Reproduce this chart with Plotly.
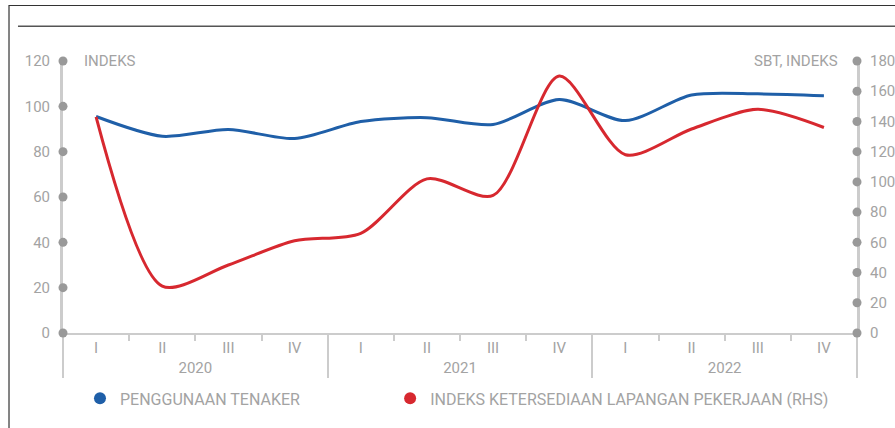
import plotly.graph_objects as go

years = ["2020"] * 4 + ["2021"] * 4 + ["2022"] * 4
quarters = ["I", "II", "III", "IV"] * 3
tenaker = [95.5, 86.8, 89.8, 85.8, 93.3, 95.0, 92.0, 103.0, 93.7, 105.0, 105.5, 104.7]
lapangan = [143, 31, 45, 61, 66, 102, 91, 170, 118, 135, 148, 136]
left_ticks = [0, 20, 40, 60, 80, 100, 120]
right_ticks = [0, 20, 40, 60, 80, 100, 120, 140, 160, 180]
left_range = [0, 120]
right_range = [0, 180]

BLUE = "#1f5fa8"
RED = "#d7282f"
AXIS = "#cccccc"
DOT = "#999999"
TXT = "#a3a3a3"
FONT = "Roboto, sans-serif"
FS = 15

fig = go.Figure()
fig.add_trace(go.Scatter(x=[years, quarters], y=tenaker, mode="lines",
                         line=dict(color=BLUE, width=3, shape="spline", smoothing=0.8),
                         showlegend=False, hoverinfo="skip"))
fig.add_trace(go.Scatter(x=[years, quarters], y=lapangan, mode="lines", yaxis="y2",
                         line=dict(color=RED, width=3, shape="spline", smoothing=0.8),
                         showlegend=False, hoverinfo="skip"))
# legend entries (dot symbols)
fig.add_trace(go.Scatter(x=[None], y=[None], mode="markers", name="PENGGUNAAN TENAKER",
                         marker=dict(color=BLUE, size=13), legend="legend"))
fig.add_trace(go.Scatter(x=[None], y=[None], mode="markers", yaxis="y2",
                         name="INDEKS KETERSEDIAAN LAPANGAN PEKERJAAN (RHS)",
                         marker=dict(color=RED, size=13), legend="legend2"))

def frac(v, rng):
    return (v - rng[0]) / (rng[1] - rng[0])

shapes = []
for v in left_ticks:
    shapes.append(dict(type="circle", xref="paper", yref="paper", xsizemode="pixel", ysizemode="pixel",
                       xanchor=0, yanchor=frac(v, left_range), x0=-4.5, x1=4.5, y0=-4.5, y1=4.5,
                       fillcolor=DOT, line=dict(width=0)))
for v in right_ticks:
    shapes.append(dict(type="circle", xref="paper", yref="paper", xsizemode="pixel", ysizemode="pixel",
                       xanchor=1, yanchor=frac(v, right_range), x0=-4.5, x1=4.5, y0=-4.5, y1=4.5,
                       fillcolor=DOT, line=dict(width=0)))
# outer frame and header rule
shapes.append(dict(type="rect", xref="paper", yref="paper", x0=-0.068, x1=1.06, y0=-0.36, y1=1.204,
                   line=dict(color="#333333", width=1.2), layer="below"))
shapes.append(dict(type="line", xref="paper", yref="paper", x0=-0.0567, x1=1.06, y0=1.128, y1=1.128,
                   line=dict(color="#555555", width=1.5)))

leg_common = dict(orientation="h", y=-0.178, xanchor="left", yanchor="top",
                  font=dict(size=16, color=TXT, family=FONT), itemsizing="constant",
                  bgcolor="rgba(0,0,0,0)")

fig.update_layout(
    width=895, height=428,
    margin=dict(l=63, r=38, t=61, b=93),
    paper_bgcolor="white", plot_bgcolor="white",
    font=dict(family=FONT, color=TXT, size=FS),
    xaxis=dict(type="multicategory", range=[-0.5, 11.5], automargin=False,
               showgrid=False, showline=True, linecolor=AXIS, linewidth=2,
               ticks="outside", tickson="boundaries", ticklen=6, tickcolor=AXIS, tickwidth=2,
               showdividers=True, dividercolor=AXIS, dividerwidth=2,
               tickfont=dict(size=FS, color=TXT), zeroline=False),
    yaxis=dict(range=left_range, tickvals=left_ticks, showgrid=False, zeroline=False, automargin=False,
               showline=True, linecolor=AXIS, linewidth=3, ticks="", ticklabelstandoff=7,
               tickfont=dict(size=FS, color=TXT)),
    yaxis2=dict(range=right_range, tickvals=right_ticks, overlaying="y", side="right", automargin=False,
                showgrid=False, zeroline=False, showline=True, linecolor=AXIS, linewidth=3,
                ticks="", ticklabelstandoff=7, tickfont=dict(size=FS, color=TXT)),
    legend=dict(x=0.0214, **leg_common),
    legend2=dict(x=0.412, **leg_common),
    shapes=shapes,
    annotations=[
        dict(text="INDEKS", xref="paper", yref="y", x=0.024, y=120, xanchor="left", yanchor="middle",
             showarrow=False, font=dict(size=FS, color=TXT)),
        dict(text="SBT, INDEKS", xref="paper", yref="y", x=0.978, y=120, xanchor="right", yanchor="middle",
             showarrow=False, font=dict(size=FS, color=TXT)),
    ],
)

fig.write_html("out.html", config={"displayModeBar": False},
               post_script="document.body.style.margin='0';document.body.style.overflow='hidden';")
